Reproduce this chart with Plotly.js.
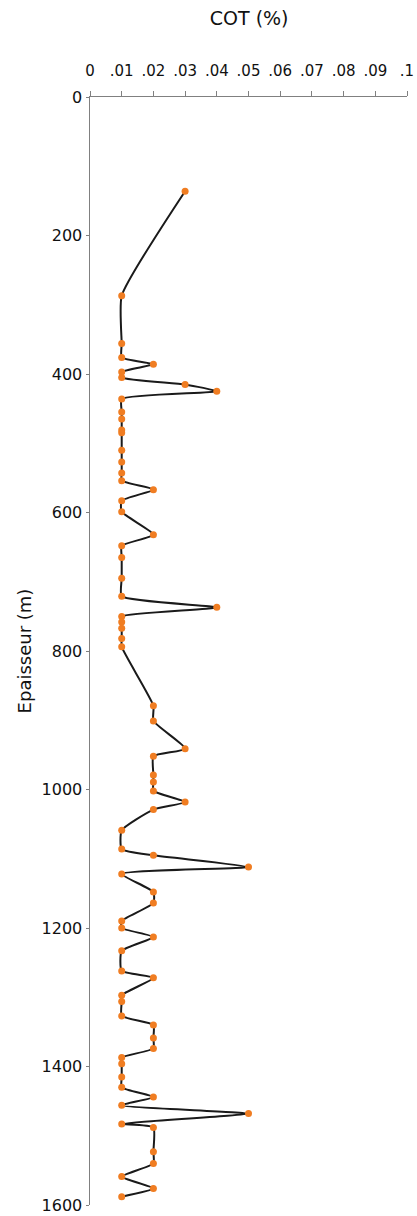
<!DOCTYPE html>
<html>
<head>
<meta charset="utf-8">
<script src="https://cdn.plot.ly/plotly-3.0.1.min.js"></script>
<style>html,body{margin:0;padding:0;background:#fff;}#chart{width:417px;height:1216px;}</style>
</head>
<body>
<div id="chart"></div>
<script>
const depth = [136,287,356,376,386,397,405,415,425,436,455,465,481,485,510,527,543,554,567,583,599,632,648,665,695,721,737,750,758,767,782,794,879,901,941,952,979,989,1002,1018,1029,1059,1086,1095,1112,1122,1148,1164,1190,1200,1213,1233,1262,1272,1297,1306,1327,1340,1359,1374,1387,1396,1415,1430,1444,1456,1468,1483,1488,1523,1540,1559,1576,1588];
const cot = [0.03,0.01,0.01,0.01,0.02,0.01,0.01,0.03,0.04,0.01,0.01,0.01,0.01,0.01,0.01,0.01,0.01,0.01,0.02,0.01,0.01,0.02,0.01,0.01,0.01,0.01,0.04,0.01,0.01,0.01,0.01,0.01,0.02,0.02,0.03,0.02,0.02,0.02,0.02,0.03,0.02,0.01,0.01,0.02,0.05,0.01,0.02,0.02,0.01,0.01,0.02,0.01,0.01,0.02,0.01,0.01,0.01,0.02,0.02,0.02,0.01,0.01,0.01,0.01,0.02,0.01,0.05,0.01,0.02,0.02,0.02,0.01,0.02,0.01];
const xTickVals = [0,0.01,0.02,0.03,0.04,0.05,0.06,0.07,0.08,0.09,0.1];
const xTickText = ['0','.01','.02','.03','.04','.05','.06','.07','.08','.09','.1'];
const yTickVals = [0,200,400,600,800,1000,1200,1400,1600];

const font = 'DejaVu Sans, Liberation Sans, sans-serif';
const trace = {
  x: cot, y: depth, type: 'scatter', mode: 'lines+markers',
  line: {color: '#1a1a1a', width: 2, shape: 'spline', smoothing: 0.5},
  marker: {color: '#f07d22', size: 7},
  cliponaxis: false, hoverinfo: 'none'
};
const layout = {
  width: 417, height: 1216,
  margin: {l: 90, r: 10, t: 97, b: 11},
  paper_bgcolor: '#fff', plot_bgcolor: '#fff',
  showlegend: false,
  title: {text: 'COT (%)', font: {family: font, size: 19, color: '#111'}, x: 0.5975, xanchor: 'center', y: 0.985, yanchor: 'middle'},
  xaxis: {
    side: 'top', range: [0, 0.1], tickvals: xTickVals, ticktext: xTickText,
    showgrid: false, zeroline: false, showline: true, linecolor: '#808080', linewidth: 1.5,
    ticks: 'outside', ticklen: 5, tickcolor: '#808080', tickwidth: 1,
    tickfont: {family: font, size: 15, color: '#111'}, ticklabelstandoff: 9
  },
  yaxis: {
    range: [1600, 0], tickvals: yTickVals,
    showgrid: false, zeroline: false, showline: true, linecolor: '#808080', linewidth: 1.5,
    ticks: 'outside', ticklen: 3, tickcolor: '#808080', tickwidth: 1,
    tickfont: {family: font, size: 16, color: '#111'},
    title: {text: 'Epaisseur (m)', font: {family: font, size: 18, color: '#111'}, standoff: 5}
  }
};
Plotly.newPlot('chart', [trace], layout, {staticPlot: true, displayModeBar: false});
</script>
</body>
</html>
